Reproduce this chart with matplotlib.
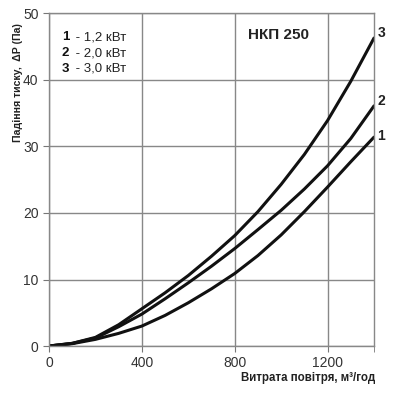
import matplotlib.pyplot as plt

plt.rcParams['font.family'] = ['Liberation Sans', 'DejaVu Sans']

# витрата повітря, м3/год
flow = [0, 100, 200, 300, 400, 500, 600, 700, 800, 900, 1000, 1100, 1200, 1300, 1400]

# падіння тиску, Па
dp_1 = [0, 0.35, 1.0, 1.9, 3.0, 4.6, 6.5, 8.6, 10.9, 13.6, 16.7, 20.2, 23.9, 27.7, 31.4]
dp_2 = [0, 0.4, 1.2, 2.9, 4.8, 7.1, 9.5, 12.0, 14.65, 17.5, 20.4, 23.6, 27.1, 31.2, 36.1]
dp_3 = [0, 0.4, 1.3, 3.2, 5.6, 8.0, 10.6, 13.5, 16.6, 20.2, 24.3, 28.8, 33.9, 39.8, 46.3]

curves = [('1', dp_1, 0.2), ('2', dp_2, 0.7), ('3', dp_3, 0.7)]
powers = ['1,2', '2,0', '3,0']

fig = plt.figure(figsize=(4.0, 3.95), dpi=100)
ax = fig.add_axes([0.1225, 0.124, 0.8125, 0.842])

for name, dp, dy in curves:
    ax.plot(flow, dp, color='#111111', lw=2.2, solid_capstyle='round',
            solid_joinstyle='round')
    ax.text(flow[-1] + 14, dp[-1] + dy, name, fontsize=10, fontweight='bold',
            ha='left', va='center', color='#222222')

ax.set_xlim(0, 1400)
ax.set_ylim(0, 50)
ax.set_xticks([0, 400, 800, 1200])
ax.set_xticks([1400], minor=True)
ax.set_yticks([0, 10, 20, 30, 40, 50])
ax.grid(True, color='#888888', lw=1.0)
ax.tick_params(axis='both', which='both', length=4, color='#777777',
               labelsize=10, labelcolor='#333333')
for s in ax.spines.values():
    s.set_color('#888888')
    s.set_linewidth(1.0)

for i, p in enumerate(powers):
    y = 0.928 - i * 0.047
    ax.text(0.04, y, str(i + 1), transform=ax.transAxes, fontsize=9.5,
            fontweight='bold', ha='left', va='center', color='#111111')
    ax.text(0.07, y, ' - ' + p + ' кВт', transform=ax.transAxes, fontsize=9.5,
            ha='left', va='center', color='#222222')

ax.text(0.705, 0.935, 'НКП 250', transform=ax.transAxes, fontsize=11,
        fontweight='bold', ha='center', va='center', color='#222222')

fig.text(0.045, 0.942, 'Падіння тиску,  ΔР (Па)', rotation=90, fontsize=7.6,
         fontweight='bold', ha='center', va='top', color='#222222')
fig.text(0.937, 0.043, 'Витрата повітря, м³/год', fontsize=8.3,
         fontweight='bold', ha='right', va='center', color='#222222')

fig.savefig('out.png', dpi=100)
